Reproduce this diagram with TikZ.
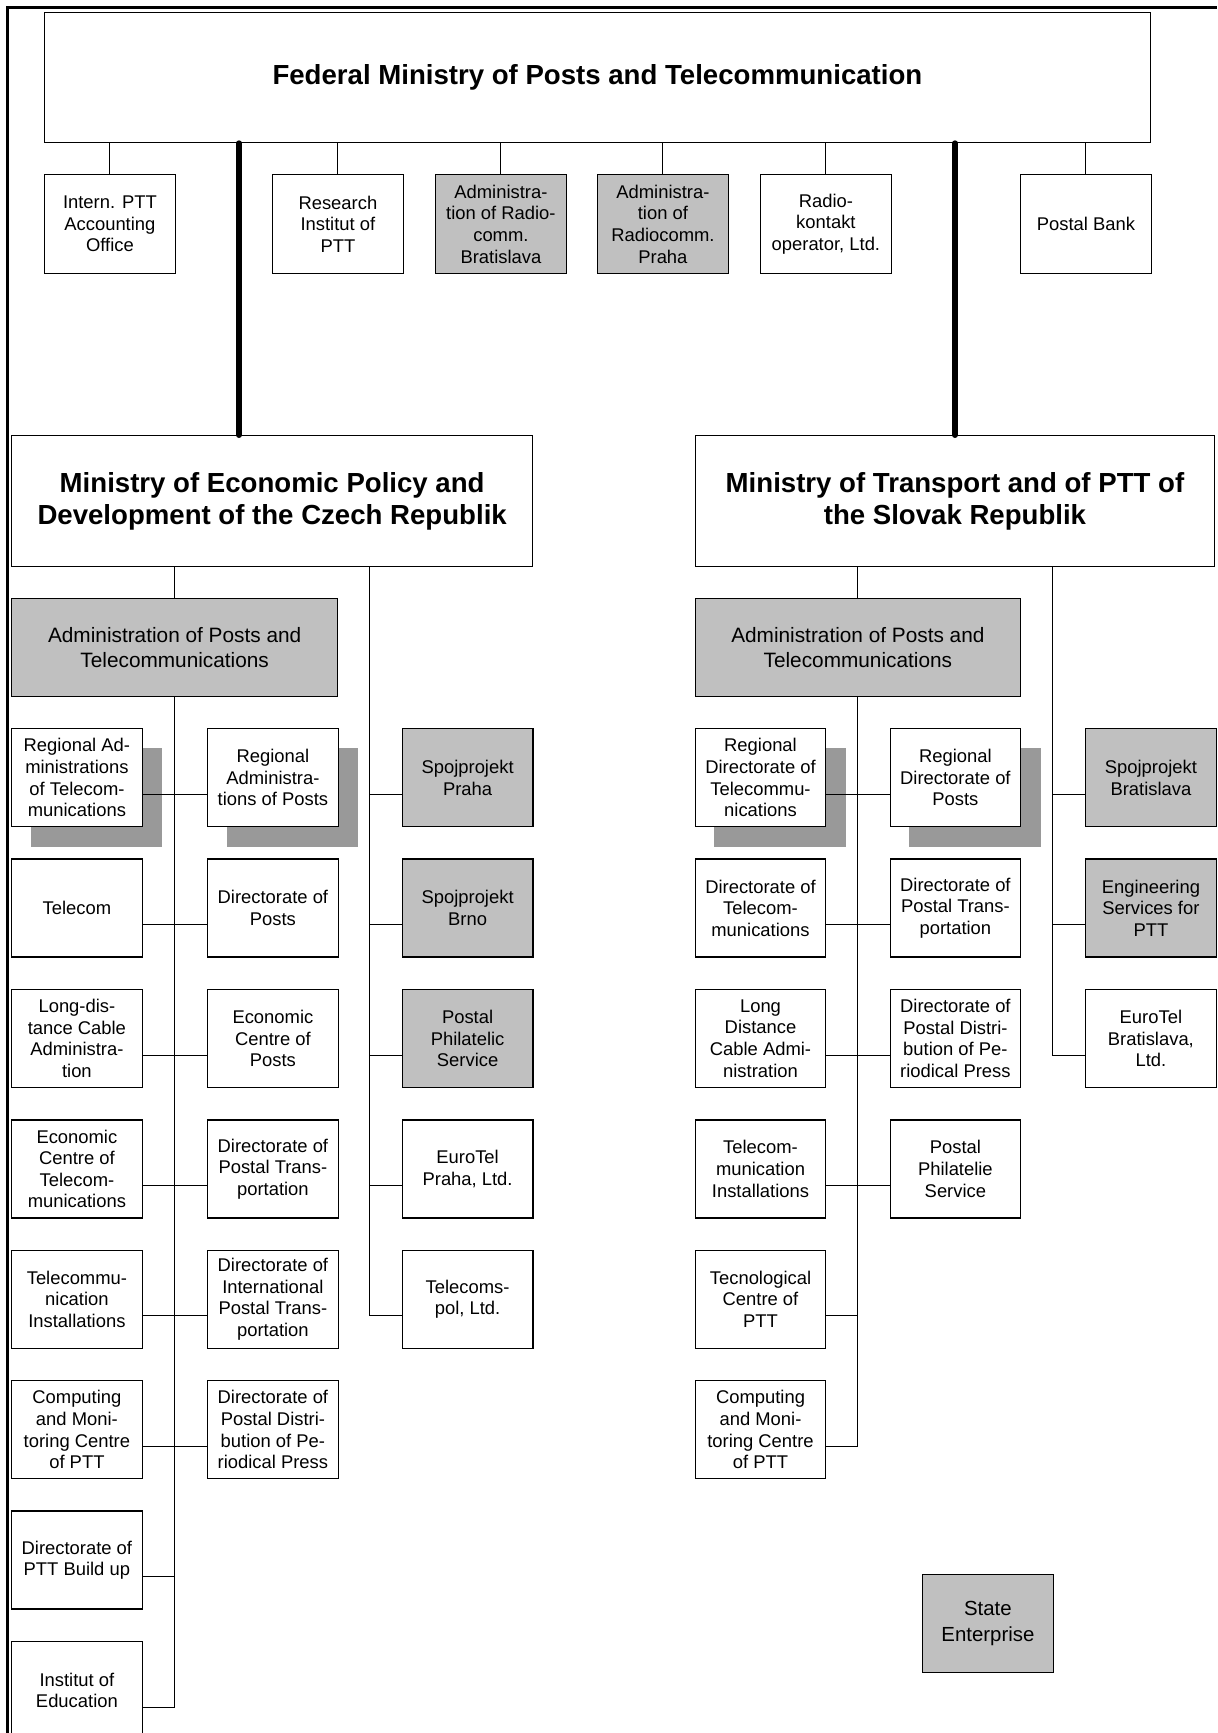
\documentclass[tikz,border=0pt]{standalone}
\usepackage{fontspec}
\setmainfont{Liberation Sans}
\usetikzlibrary{calc,backgrounds}
\definecolor{stategray}{HTML}{C0C0C0}
\definecolor{shadowgray}{HTML}{999999}
\begin{document}
\begin{tikzpicture}[x=0.5pt,y=-0.5pt,
  box/.style={draw=black, line width=0.65pt, fill=white, anchor=north west,
    minimum width=65.25pt, minimum height=49pt, inner sep=0pt, align=center,
    font=\fontsize{9.2}{10.8}\selectfont},
  topbox/.style={box, minimum height=49.5pt},
  grey/.style={fill=stategray},
  bigbox/.style={draw=black, line width=0.65pt, fill=white, anchor=north west,
    inner sep=0pt, align=center, font=\fontsize{13.8}{16.2}\selectfont\bfseries},
  admbox/.style={draw=black, line width=0.65pt, fill=stategray, anchor=north west,
    inner sep=0pt, align=center, minimum height=49pt,
    font=\fontsize{10.4}{12.25}\selectfont},
  conn/.style={line width=0.5pt},
  thickconn/.style={line width=3pt, line cap=round},
  frameline/.style={line width=1.1pt}]
\useasboundingbox (0,0) rectangle (1217,1733);
\clip (0,0) rectangle (1217,1733);

% frame
\draw[frameline] (7.5,1733) -- (7.5,7.5) -- (1217,7.5);

% federal ministry
\node[bigbox, minimum width=553.25pt, minimum height=65pt] (fed) at (43.5,12)
  {Federal Ministry of Posts and Telecommunication};

% top row
\node[topbox] (t1) at (44,174) {Intern. PTT\\Accounting\\Office};
\node[topbox] (t2) at (272,174) {Research\\Institut of\\PTT};
\node[topbox,grey] (t3) at (435,174) {Administra-\\tion of Radio-\\comm.\\Bratislava};
\node[topbox,grey] (t4) at (597,174) {Administra-\\tion of\\Radiocomm.\\Praha};
\node[topbox] (t5) at (760,174) {Radio-\\kontakt\\operator, Ltd.};
\node[topbox] (t6) at (1020,174) {Postal Bank};
\foreach \n in {t1,t2,t3,t4,t5,t6}
  \draw[conn] (\n.north) -- (\n.north |- fed.south);

% ministries
\node[bigbox, minimum width=260.5pt, minimum height=65.5pt] (czmin) at (11,435)
  {Ministry of Economic Policy and\\Development of the Czech Republik};
\node[bigbox, minimum width=259.7pt, minimum height=65.5pt] (skmin) at (694.6,435)
  {Ministry of Transport and of PTT of\\the Slovak Republik};

\coordinate (tkL) at ($(fed.south west)+(195.5,0)$);
\coordinate (tkR) at ($(fed.south west)+(911.5,0)$);
\draw[thickconn] (tkL) -- (tkL |- czmin.north);
\draw[thickconn] (tkR) -- (tkR |- skmin.north);

% administrations
\node[admbox, minimum width=163pt] (czadm) at (11,598)
  {Administration of Posts and\\Telecommunications};
\node[admbox, minimum width=162.6pt] (skadm) at (694.6,598)
  {Administration of Posts and\\Telecommunications};

% Czech column A
\node[box] (czA1) at (11,728) {Regional Ad-\\ministrations\\of Telecom-\\munications};
\node[box] (czA2) at (11,858.4) {Telecom};
\node[box] (czA3) at (11,988.8) {Long-dis-\\tance Cable\\Administra-\\tion};
\node[box] (czA4) at (11,1119.2) {Economic\\Centre of\\Telecom-\\munications};
\node[box] (czA5) at (11,1249.6) {Telecommu-\\nication\\Installations};
\node[box] (czA6) at (11,1380) {Computing\\and Moni-\\toring Centre\\of PTT};
\node[box] (czA7) at (11,1510.4) {Directorate of\\PTT Build up};
\node[box] (czA8) at (11,1640.8) {Institut of\\Education};

% Czech column B
\node[box] (czB1) at (207,728) {Regional\\Administra-\\tions of Posts};
\node[box] (czB2) at (207,858.4) {Directorate of\\Posts};
\node[box] (czB3) at (207,988.8) {Economic\\Centre of\\Posts};
\node[box] (czB4) at (207,1119.2) {Directorate of\\Postal Trans-\\portation};
\node[box] (czB5) at (207,1249.6) {Directorate of\\International\\Postal Trans-\\portation};
\node[box] (czB6) at (207,1380) {Directorate of\\Postal Distri-\\bution of Pe-\\riodical Press};

% Czech column C
\node[box,grey] (czC1) at (401.7,728) {Spojprojekt\\Praha};
\node[box,grey] (czC2) at (401.7,858.4) {Spojprojekt\\Brno};
\node[box,grey] (czC3) at (401.7,988.8) {Postal\\Philatelic\\Service};
\node[box] (czC4) at (401.7,1119.2) {EuroTel\\Praha, Ltd.};
\node[box] (czC5) at (401.7,1249.6) {Telecoms-\\pol, Ltd.};

% Slovak column A
\node[box] (skA1) at (694.6,728) {Regional\\Directorate of\\Telecommu-\\nications};
\node[box] (skA2) at (694.6,858.4) {Directorate of\\Telecom-\\munications};
\node[box] (skA3) at (694.6,988.8) {Long\\Distance\\Cable Admi-\\nistration};
\node[box] (skA4) at (694.6,1119.2) {Telecom-\\munication\\Installations};
\node[box] (skA5) at (694.6,1249.6) {Tecnological\\Centre of\\PTT};
\node[box] (skA6) at (694.6,1380) {Computing\\and Moni-\\toring Centre\\of PTT};

% Slovak column B
\node[box] (skB1) at (889.5,728) {Regional\\Directorate of\\Posts};
\node[box] (skB2) at (889.5,858.4) {Directorate of\\Postal Trans-\\portation};
\node[box] (skB3) at (889.5,988.8) {Directorate of\\Postal Distri-\\bution of Pe-\\riodical Press};
\node[box] (skB4) at (889.5,1119.2) {Postal\\Philatelie\\Service};

% Slovak column C
\node[box,grey] (skC1) at (1085,728) {Spojprojekt\\Bratislava};
\node[box,grey] (skC2) at (1085,858.4) {Engineering\\Services for\\PTT};
\node[box] (skC3) at (1085,988.8) {EuroTel\\Bratislava,\\Ltd.};

% legend
\node[box,grey, font=\fontsize{10.2}{12.8}\selectfont] (state) at (922,1574) {State\\Enterprise};

% shadows
\begin{pgfonlayer}{background}
\foreach \n in {czA1,czB1,skA1,skB1}
  \fill[shadowgray] ($(\n.north west)+(19.5,20)$) rectangle ($(\n.south east)+(19.5,20)$);
\end{pgfonlayer}

% connector attachment points (2/3 of box height)
\foreach \i in {1,...,8}
  \coordinate (czAe\i) at ($(czA\i.north east)!0.668!(czA\i.south east)$);
\foreach \i in {1,...,6}
  \coordinate (czBw\i) at ($(czB\i.north west)!0.668!(czB\i.south west)$);
\foreach \i in {1,...,5}
  \coordinate (czCw\i) at ($(czC\i.north west)!0.668!(czC\i.south west)$);
\foreach \i in {1,...,6}
  \coordinate (skAe\i) at ($(skA\i.north east)!0.668!(skA\i.south east)$);
\foreach \i in {1,...,4}
  \coordinate (skBw\i) at ($(skB\i.north west)!0.668!(skB\i.south west)$);
\foreach \i in {1,...,3}
  \coordinate (skCw\i) at ($(skC\i.north west)!0.668!(skC\i.south west)$);

% Czech connectors
\draw[conn] (czadm.north) -- (czadm.north |- czmin.south);
\draw[conn] (czadm.south) -- (czadm.south |- czAe8);
\foreach \i in {1,...,6} \draw[conn] (czAe\i) -- (czBw\i);
\foreach \i in {7,8} \draw[conn] (czAe\i) -- (czAe\i -| czadm.south);
\coordinate (czCtop) at ($(czmin.south west)+(358.3,0)$);
\draw[conn] (czCtop) -- (czCtop |- czCw5);
\foreach \i in {1,...,5} \draw[conn] (czCw\i) -- (czCw\i -| czCtop);

% Slovak connectors
\draw[conn] (skadm.north) -- (skadm.north |- skmin.south);
\draw[conn] (skadm.south) -- (skadm.south |- skAe6);
\foreach \i in {1,...,4} \draw[conn] (skAe\i) -- (skBw\i);
\foreach \i in {5,6} \draw[conn] (skAe\i) -- (skAe\i -| skadm.south);
\coordinate (skCtop) at ($(skmin.south west)+(357.7,0)$);
\draw[conn] (skCtop) -- (skCtop |- skCw3);
\foreach \i in {1,...,3} \draw[conn] (skCw\i) -- (skCw\i -| skCtop);
\end{tikzpicture}
\end{document}
